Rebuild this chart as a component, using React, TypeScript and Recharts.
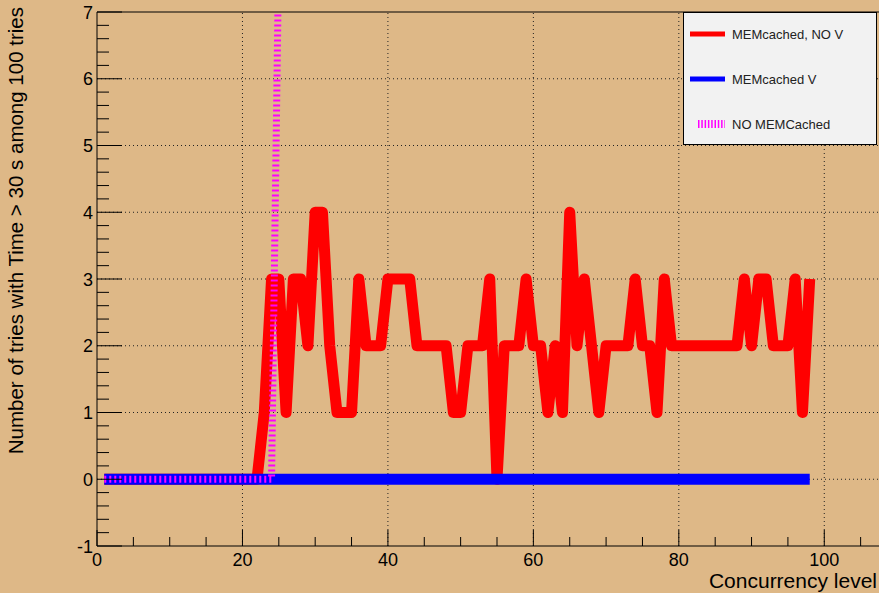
import { LineChart, Line, XAxis, YAxis, ReferenceLine, Legend } from 'recharts'

// concurrency levels 1..98
const levels = Array.from({ length: 98 }, (_, i) => i + 1)

const memcachedNoV = [
  0, 0, 0, 0, 0, 0, 0, 0, 0, 0,
  0, 0, 0, 0, 0, 0, 0, 0, 0, 0,
  0, 0, 1, 3, 3, 1, 3, 3, 2, 4,
  4, 2, 1, 1, 1, 3, 2, 2, 2, 3,
  3, 3, 3, 2, 2, 2, 2, 2, 1, 1,
  2, 2, 2, 3, 0, 2, 2, 2, 3, 2,
  2, 1, 2, 1, 4, 2, 3, 2, 1, 2,
  2, 2, 2, 3, 2, 2, 1, 3, 2, 2,
  2, 2, 2, 2, 2, 2, 2, 2, 3, 2,
  3, 3, 2, 2, 2, 3, 1, 3,
]

const memcachedV = [
  0, 0, 0, 0, 0, 0, 0, 0, 0, 0,
  0, 0, 0, 0, 0, 0, 0, 0, 0, 0,
  0, 0, 0, 0, 0, 0, 0, 0, 0, 0,
  0, 0, 0, 0, 0, 0, 0, 0, 0, 0,
  0, 0, 0, 0, 0, 0, 0, 0, 0, 0,
  0, 0, 0, 0, 0, 0, 0, 0, 0, 0,
  0, 0, 0, 0, 0, 0, 0, 0, 0, 0,
  0, 0, 0, 0, 0, 0, 0, 0, 0, 0,
  0, 0, 0, 0, 0, 0, 0, 0, 0, 0,
  0, 0, 0, 0, 0, 0, 0, 0,
]

// goes off the top of the frame after level 24
const noMemcached = [
  0, 0, 0, 0, 0, 0, 0, 0, 0, 0,
  0, 0, 0, 0, 0, 0, 0, 0, 0, 0,
  0, 0, 0, 0, 8,
]

const seriesNames = ['MEMcached, NO V', 'MEMcached V', 'NO MEMCached']

const xTicks = [0, 5, 10, 15, 20, 25, 30, 35, 40, 45, 50, 55, 60, 65, 70, 75, 80, 85, 90, 95, 100, 105, 110]
const xGrid = [20, 40, 60, 80, 100]
const yTicks = Array.from({ length: 41 }, (_, i) => Math.round((-1 + i * 0.2) * 10) / 10)
const yGrid = [0, 1, 2, 3, 4, 5, 6]

const data = levels.map((level, i) => ({
  level,
  noV: memcachedNoV[i],
  v: memcachedV[i],
  noMem: i < noMemcached.length ? noMemcached[i] : null,
}))

const FONT = '"Liberation Sans", Arial, Helvetica, sans-serif'
const BG = '#DEB887'

function XTick(props: any) {
  const { x, y, payload } = props
  const major = payload.value % 20 === 0
  return (
    <g>
      <line x1={x} x2={x} y1={y} y2={y - (major ? 16 : 9)} stroke="#000" strokeWidth={1} />
      {major && (
        <text x={x} y={y + 20} textAnchor="middle" fontSize={18} fontFamily={FONT} fill="#000">
          {payload.value}
        </text>
      )}
    </g>
  )
}

function YTick(props: any) {
  const { x, y, payload } = props
  const major = Number.isInteger(payload.value)
  return (
    <g>
      <line x1={x} x2={x + (major ? 25 : 12)} y1={y} y2={y} stroke="#000" strokeWidth={1} />
      {major && (
        <text x={x - 4} y={y + 6.5} textAnchor="end" fontSize={18} fontFamily={FONT} fill="#000">
          {payload.value}
        </text>
      )}
    </g>
  )
}

function XTitle() {
  return (
    <text x={877} y={588} textAnchor="end" fontSize={21} fontFamily={FONT} fill="#000">
      Concurrency level
    </text>
  )
}

function YTitle() {
  return (
    <text
      x={23}
      y={7}
      transform="rotate(-90 23 7)"
      textAnchor="end"
      fontSize={20.5}
      fontFamily={FONT}
      fill="#000"
    >
      Number of tries with Time &gt; 30 s among 100 tries
    </text>
  )
}

function LegendBox(props: any) {
  const items = [...(props.payload || [])].sort(
    (a: any, b: any) => seriesNames.indexOf(a.value) - seriesNames.indexOf(b.value)
  )
  return (
    <svg width={195} height={134} style={{ display: 'block' }}>
      <rect x={0.5} y={0.5} width={193} height={132} fill="#F2F2F2" stroke="#000" strokeWidth={1} />
      {items.map((it: any, i: number) => {
        const cy = 22 + i * 45
        const dashed = it.payload && it.payload.strokeDasharray
        return (
          <g key={it.value}>
            <line
              x1={dashed ? 15 : 7}
              x2={42}
              y1={cy}
              y2={cy}
              stroke={it.color}
              strokeWidth={dashed ? 8 : 5}
              strokeDasharray={dashed ? '1.5 1.8' : undefined}
            />
            <text x={49} y={cy + 4.5} fontSize={13} fontFamily={FONT} fill="#222">
              {it.value}
            </text>
          </g>
        )
      })}
    </svg>
  )
}

export default function App() {
  return (
    <div
      style={{
        position: 'absolute',
        left: 0,
        top: 0,
        width: 879,
        height: 593,
        overflow: 'hidden',
        background: BG,
        fontFamily: FONT,
      }}
    >
      <LineChart width={907} height={593} data={data} margin={{ top: 12, right: 10, left: 37, bottom: 0 }}>
        <XAxis
          dataKey="level"
          type="number"
          domain={[0, 110]}
          ticks={xTicks}
          interval={0}
          allowDataOverflow
          height={47}
          tickSize={0}
          tickMargin={0}
          tickLine={false}
          axisLine={{ stroke: '#000', strokeWidth: 1 }}
          tick={<XTick />}
          label={<XTitle />}
        />
        <YAxis
          type="number"
          domain={[-1, 7]}
          ticks={yTicks}
          interval={0}
          allowDataOverflow
          width={60}
          tickSize={0}
          tickMargin={0}
          tickLine={false}
          axisLine={{ stroke: '#000', strokeWidth: 1 }}
          tick={<YTick />}
          label={<YTitle />}
        />
        {xGrid.map((v) => (
          <ReferenceLine key={'x' + v} x={v} stroke="#222" strokeWidth={1} strokeDasharray="1 3" />
        ))}
        {yGrid.map((v) => (
          <ReferenceLine key={'y' + v} y={v} stroke="#222" strokeWidth={1} strokeDasharray="1 3" />
        ))}
        <ReferenceLine y={7} stroke="#000" strokeWidth={1} />
        <Line
          dataKey="noV"
          name={seriesNames[0]}
          stroke="#FF0000"
          strokeWidth={11}
          strokeLinejoin="round"
          type="linear"
          dot={false}
          activeDot={false}
          isAnimationActive={false}
        />
        <Line
          dataKey="v"
          name={seriesNames[1]}
          stroke="#0000FF"
          strokeWidth={11}
          type="linear"
          dot={false}
          activeDot={false}
          isAnimationActive={false}
        />
        <Line
          dataKey="noMem"
          name={seriesNames[2]}
          stroke="#FF00FF"
          strokeWidth={7}
          strokeDasharray="2 3"
          type="linear"
          dot={false}
          activeDot={false}
          isAnimationActive={false}
        />
        <Legend
          layout="vertical"
          align="center"
          verticalAlign="middle"
          wrapperStyle={{ left: 683, top: 12, width: 195, height: 134 }}
          content={<LegendBox />}
        />
      </LineChart>
    </div>
  )
}
